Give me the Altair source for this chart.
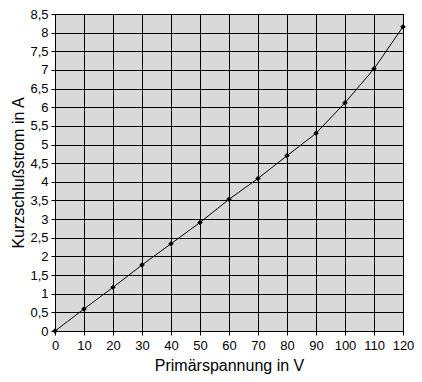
import altair as alt
import pandas as pd

spannung = [0, 10, 20, 30, 40, 50, 60, 70, 80, 90, 100, 110, 120]
strom = [0.0, 0.59, 1.17, 1.77, 2.34, 2.91, 3.53, 4.09, 4.70, 5.30, 6.12, 7.03, 8.16]

df = pd.DataFrame({"U": spannung, "I": strom})

x_ticks = list(range(0, 121, 10))
y_ticks = [i * 0.5 for i in range(0, 18)]

common = dict(grid=True, gridColor="black", gridOpacity=1, gridWidth=1,
              domainColor="black", tickColor="black", tickSize=4,
              labelFont="Liberation Sans", labelFontSize=13, labelColor="black",
              labelOverlap=False, labelFlush=False,
              titleFont="Liberation Sans", titleFontSize=16, titleFontWeight="normal",
              titleColor="black")

xenc = alt.X("U:Q", scale=alt.Scale(domain=[0, 120], nice=False),
             axis=alt.Axis(values=x_ticks, title="Primärspannung in V",
                           labelPadding=4, titlePadding=5, **common))
yenc = alt.Y("I:Q", scale=alt.Scale(domain=[0, 8.5], nice=False),
             axis=alt.Axis(values=y_ticks, title="Kurzschlußstrom in A",
                           labelExpr="replace(toString(datum.value), '.', ',')",
                           labelPadding=3, titlePadding=3, **common))

base = alt.Chart(df).encode(x=xenc, y=yenc)
line = base.mark_line(color="black", strokeWidth=1)
pts = base.mark_point(shape="diamond", filled=True, color="black", size=30, opacity=1)

chart = (line + pts).properties(
    width=348, height=317,
    autosize=alt.AutoSizeParams(type="none"),
    padding={"left": 47, "top": 6, "right": 11, "bottom": 43},
    background="white",
).configure_view(fill="#d9d9d9", stroke="black", strokeWidth=1)

chart.save("out.html", embed_options={"renderer": "svg", "actions": False})
